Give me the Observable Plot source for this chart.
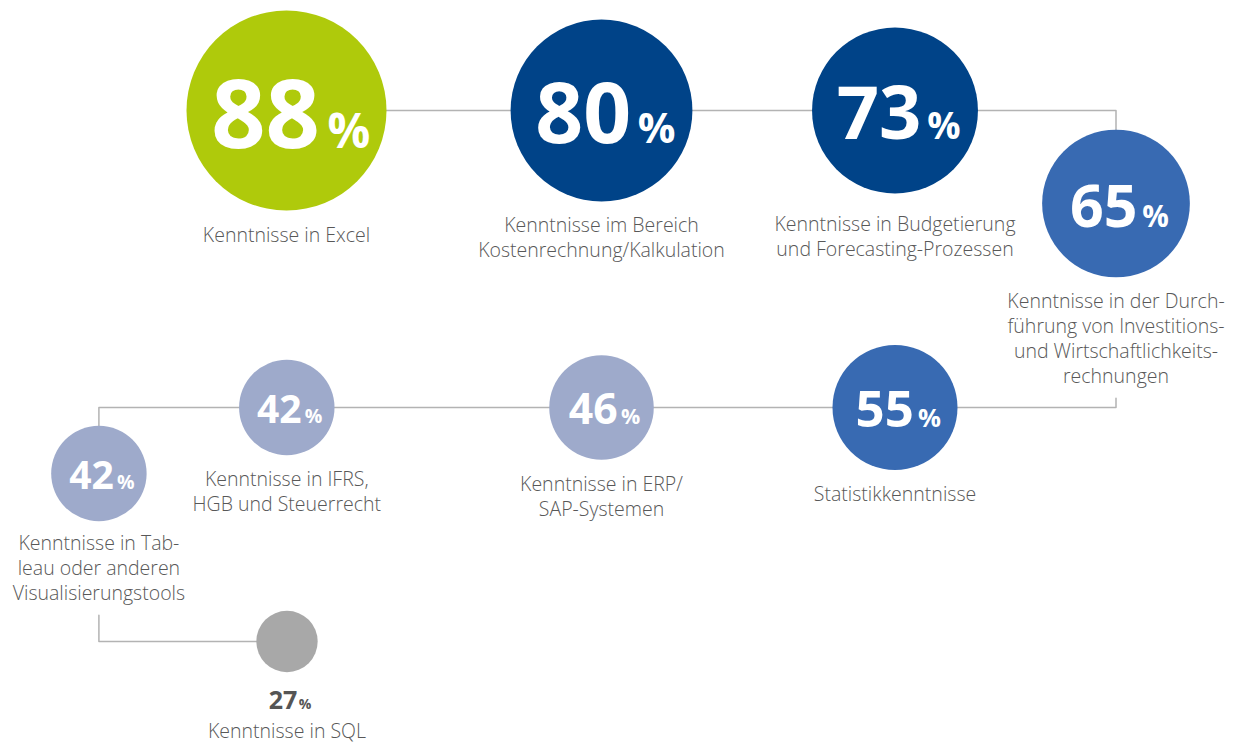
<!DOCTYPE html>
<html><head><meta charset="utf-8">
<script src="https://cdn.jsdelivr.net/npm/d3@7"></script>
<script src="https://cdn.jsdelivr.net/npm/@observablehq/plot@0.6"></script>
<style>html,body{margin:0;padding:0;background:#fff}svg{display:block}</style>
</head><body><div id="chart"></div>
<script>
// ---- data ----
const skills = [
  "Kenntnisse in Excel",
  "Kenntnisse im Bereich\nKostenrechnung/Kalkulation",
  "Kenntnisse in Budgetierung\nund Forecasting-Prozessen",
  "Kenntnisse in der Durch-\nführung von Investitions-\nund Wirtschaftlichkeits-\nrechnungen",
  "Statistikkenntnisse",
  "Kenntnisse in ERP/\nSAP-Systemen",
  "Kenntnisse in IFRS,\nHGB und Steuerrecht",
  "Kenntnisse in Tab-\nleau oder anderen\nVisualisierungstools",
  "Kenntnisse in SQL"
];
const shares = [88, 80, 73, 65, 55, 46, 42, 42, 27];

// ---- layout (snake path slots) ----
const slotX = [286, 601, 894.5, 1115.5, 894.5, 601, 286.3, 98.4, 286.5];
const slotY = [110, 110, 110, 203, 407, 407, 407, 473, 641];
const labelShift = [0, 0, 7, 0, 0, 0, 0, -2, 0];
const exitVia = ["side", "side", "side", "bottom", "side", "side", "side", "bottom"];

// ---- styles ----
const W = 1237, H = 745;
const labelSize = 19.5, labelLH = 25;
const rOpts = {type: "linear", domain: [0, 88], range: [0, 100]};
const rScale = Plot.scale({r: rOpts});
const numSize = d3.scaleLinear().domain([27, 42, 55, 65, 73, 88]).range([25, 39, 51, 59, 74, 95]);

const nodes = skills.map((label, i) => {
  const value = shares[i];
  const r = rScale.apply(value);
  const fs = numSize(value);
  const inside = r > 40;
  const lines = label.split("\n").length;
  const baseline1 = slotY[i] + r + 31 + labelShift[i] + (inside ? 0 : 34.5);
  return {
    label, value, x: slotX[i], y: slotY[i], r, fs, inside, lines,
    numX: slotX[i] + 0.33 * fs + 2,
    numY: inside ? slotY[i] + 0.39 * fs : slotY[i] + r + 37,
    labelTop: baseline1 - 0.71 * labelLH,
    labelEnd: baseline1 + (lines - 1) * labelLH + 15
  };
});

// connectors
const links = [];
let seg = 0;
for (let i = 0; i < nodes.length - 1; i++) {
  const a = nodes[i], b = nodes[i + 1];
  if (exitVia[i] === "side") {
    links.push({seg, x: a.x, y: a.y}, {seg, x: b.x, y: a.y}, {seg, x: b.x, y: b.y});
  } else {
    seg++;
    links.push({seg, x: a.x, y: a.labelEnd}, {seg, x: a.x, y: b.y}, {seg, x: b.x, y: b.y});
  }
}

const inside = nodes.filter(d => d.inside);
const outside = nodes.filter(d => !d.inside);

const chart = Plot.plot({
  width: W, height: H,
  margin: 0,
  x: {domain: [0, W], range: [0, W], axis: null},
  y: {domain: [0, H], range: [0, H], axis: null},
  r: rOpts,
  color: {type: "threshold", domain: [30, 50, 70, 85],
          range: ["#a8a8a8", "#9eaacb", "#386ab2", "#004388", "#afca0b"]},
  style: {fontFamily: "'Open Sans', sans-serif", background: "#fff"},
  marks: [
    Plot.line(links, {x: "x", y: "y", z: "seg", stroke: "#b3b3b3", strokeWidth: 1.5, curve: "linear"}),
    Plot.dot(nodes, {x: "x", y: "y", r: "value", fill: "value", stroke: null}),
    Plot.text(inside, {x: "numX", y: "numY", text: d => String(d.value), fontSize: d => d.fs,
      fontWeight: 700, fill: "#fff", textAnchor: "end", lineAnchor: "bottom"}),
    Plot.text(inside, {x: d => d.numX + 0.08 * d.fs, y: "numY", text: () => "%", fontSize: d => d.fs / 2,
      fontWeight: 700, fill: "#fff", textAnchor: "start", lineAnchor: "bottom"}),
    Plot.text(outside, {x: "numX", y: "numY", text: d => String(d.value), fontSize: d => d.fs,
      fontWeight: 700, fill: "#555", textAnchor: "end", lineAnchor: "bottom"}),
    Plot.text(outside, {x: d => d.numX + 0.06 * d.fs, y: "numY", text: () => "%", fontSize: 14,
      fontWeight: 700, fill: "#555", textAnchor: "start", lineAnchor: "bottom"}),
    Plot.text(nodes, {x: "x", y: "labelTop", text: "label", fontSize: labelSize, fontWeight: 300,
      fill: "#585858", textAnchor: "middle", lineAnchor: "top", lineHeight: labelLH / labelSize})
  ]
});
document.getElementById("chart").appendChild(chart);
</script>
</body></html>
